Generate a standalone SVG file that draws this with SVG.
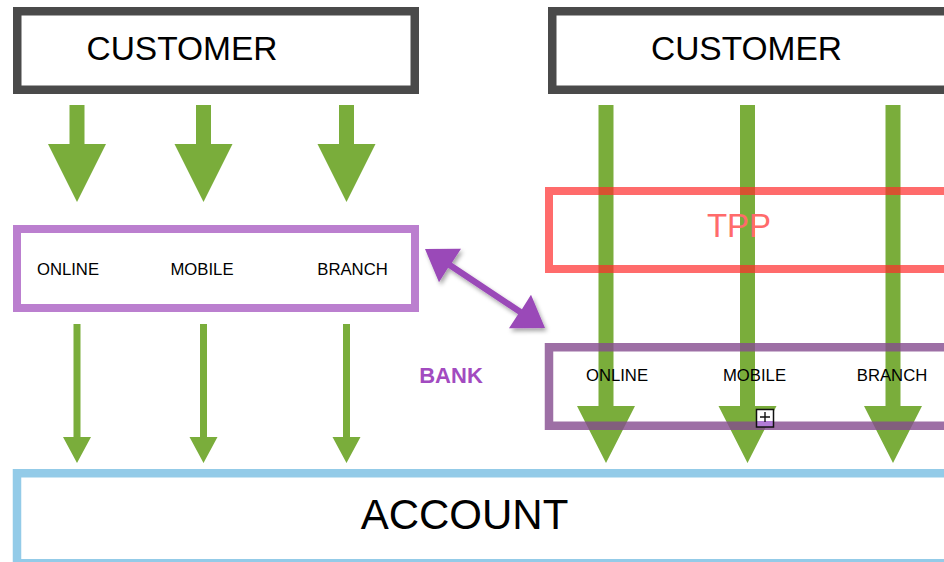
<svg xmlns="http://www.w3.org/2000/svg" width="944" height="562" viewBox="0 0 944 562">
  <defs>
    <filter id="shadow" x="-20%" y="-20%" width="140%" height="140%">
      <feDropShadow dx="2" dy="3" stdDeviation="2" flood-color="#000" flood-opacity="0.35"/>
    </filter>
  </defs>
  <style>
    text { font-family: "Liberation Sans", Arial, sans-serif; fill: #000; }
    .box { fill: none; }
    .customer { stroke: #4a4a4a; stroke-width: 8.5; fill: #fff; }
    .channels { stroke: #bb7fcf; stroke-width: 8; fill: #fff; }
    .channels-ov { stroke: #844b8e; stroke-opacity: 0.8; stroke-width: 8.5; fill: none; }
    .tpp { stroke: #ff2c2c; stroke-opacity: 0.7; stroke-width: 8; fill: none; }
    .account { stroke: #93cbe8; stroke-width: 8.5; fill: #fff; }
    .flow { fill: #7aad3b; }
    .link { fill: #9a48b8; filter: url(#shadow); }
    .big { font-size: 33.5px; }
    .ch { font-size: 16.7px; }
  </style>

  <!-- opaque node boxes that sit under the flows -->
  <g id="customer-left">
    <rect class="customer" x="17.25" y="11.25" width="397.5" height="78.5"/>
    <text class="big" x="182" y="60" text-anchor="middle">CUSTOMER</text>
  </g>
  <g id="customer-right">
    <rect class="customer" x="552.25" y="11.25" width="440" height="78.5"/>
    <text class="big" x="746.5" y="60" text-anchor="middle">CUSTOMER</text>
  </g>
  <g id="channels-left">
    <rect class="channels" x="17" y="229" width="398" height="79"/>
    <text class="ch" x="68" y="275" text-anchor="middle">ONLINE</text>
    <text class="ch" x="202" y="275" text-anchor="middle">MOBILE</text>
    <text class="ch" x="352.5" y="275" text-anchor="middle">BRANCH</text>
  </g>
  <g id="account">
    <rect class="account" x="17" y="473.25" width="1000" height="90"/>
    <text x="464.5" y="529" text-anchor="middle" style="font-size:42px">ACCOUNT</text>
  </g>

  <!-- connectors -->
  <g id="connectors">
    <!-- customer to channels (left) -->
    <path class="flow" d="M69.5,105 H84.5 V144 H106 L77,202 L48,144 H69.5 Z"/>
    <path class="flow" d="M196,105 H211 V144 H232.5 L203.5,202 L174.5,144 H196 Z"/>
    <path class="flow" d="M339,105 H354 V144 H375.5 L346.5,202 L317.5,144 H339 Z"/>
    <!-- channels to account (left) -->
    <path class="flow" d="M73.5,324 H80.5 V437 H91 L77,463 L63,437 H73.5 Z"/>
    <path class="flow" d="M200,324 H207 V437 H217.5 L203.5,463 L189.5,437 H200 Z"/>
    <path class="flow" d="M343,324 H350 V437 H360.5 L346.5,463 L332.5,437 H343 Z"/>
    <!-- customer through TPP and bank to account (right) -->
    <path class="flow" d="M598.5,105 H613.5 V406 H635 L606,463 L577,406 H598.5 Z"/>
    <path class="flow" d="M740,105 H755 V406 H776.5 L747.5,463 L718.5,406 H740 Z"/>
    <path class="flow" d="M885.5,105 H900.5 V406 H922 L893,463 L864,406 H885.5 Z"/>
    <!-- two-way link between the bank channel boxes -->
    <path class="link" d="M425,249 L461,248.8 L451.9,262.8 L521.9,309.2 L531,294.8 L545,328 L509,328.2 L518.1,314.2 L448.1,267.8 L439,282.2 Z"/>
  </g>

  <!-- translucent boxes drawn over the flows -->
  <g id="tpp">
    <rect class="tpp" x="549" y="191" width="450" height="78"/>
    <text x="739" y="237" text-anchor="middle" style="font-size:33px;fill:#ff6b6b">TPP</text>
  </g>
  <g id="channels-right">
    <rect class="channels-ov" x="549" y="347.25" width="450" height="78.5"/>
    <text class="ch" x="617" y="381" text-anchor="middle">ONLINE</text>
    <text class="ch" x="754.5" y="381" text-anchor="middle">MOBILE</text>
    <text class="ch" x="892" y="381" text-anchor="middle">BRANCH</text>
    <!-- expand handle -->
    <rect x="756.5" y="409.5" width="17" height="17.5" fill="#fff"/>
    <rect x="756.5" y="421" width="17" height="6" fill="#b27cd6"/>
    <rect x="756.5" y="409.5" width="17" height="17.5" fill="none" stroke="#111" stroke-width="1.5"/>
    <path d="M760,417 H770 M765,412 V422" stroke="#111" stroke-width="1.4"/>
  </g>
  <g id="bank-label">
    <text x="451" y="383" text-anchor="middle" style="font-size:22px;font-weight:bold;fill:#a24bc0">BANK</text>
  </g>
</svg>
